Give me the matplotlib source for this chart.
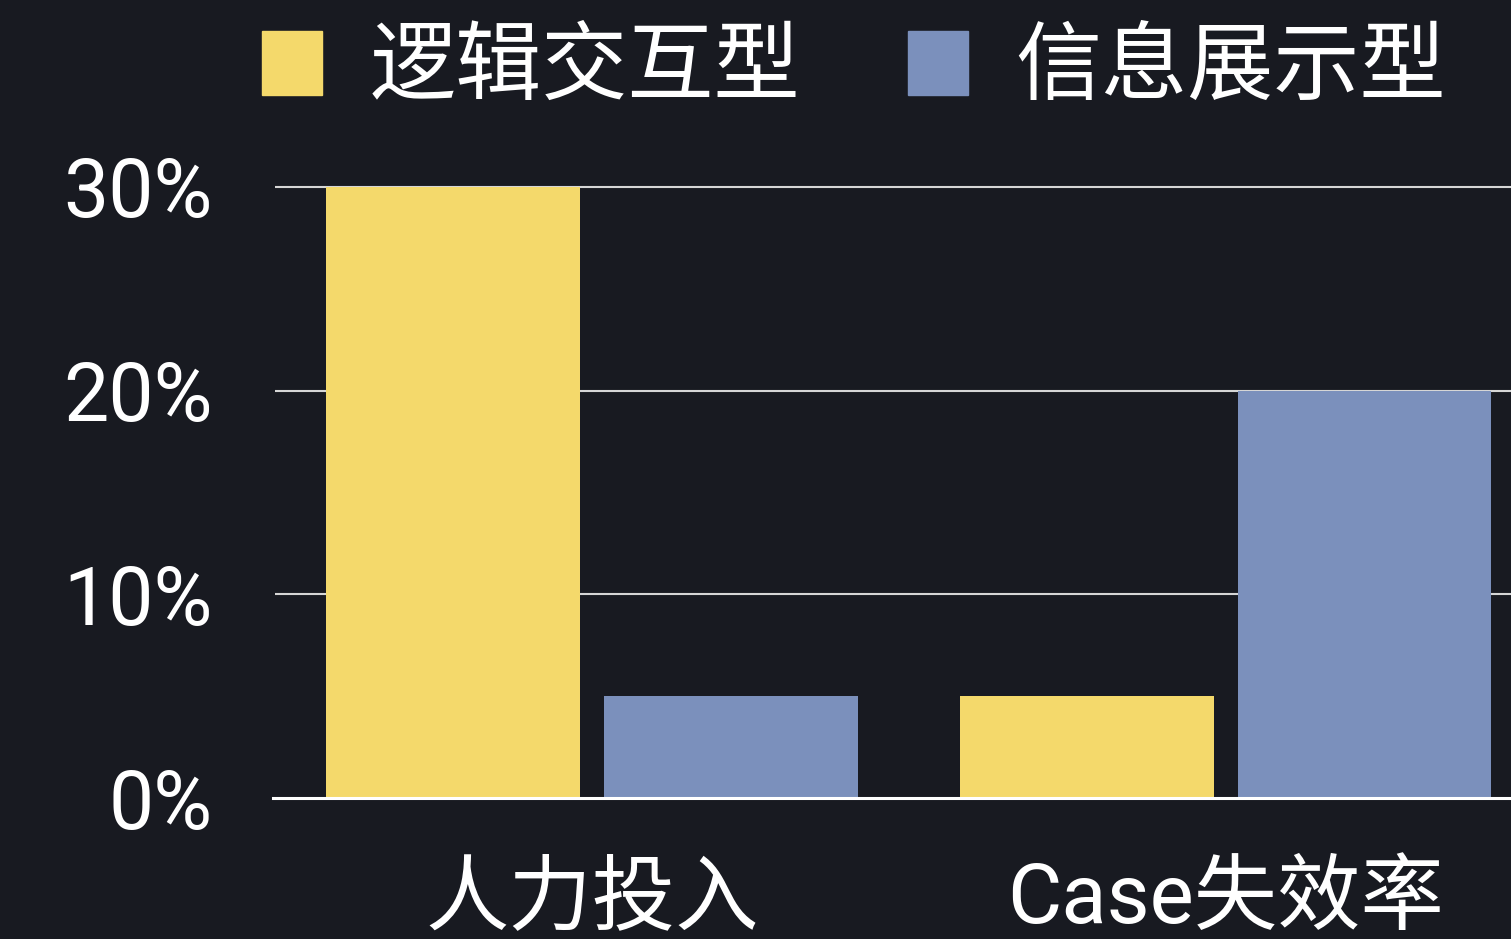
import matplotlib
matplotlib.use("Agg")
from matplotlib import pyplot as plt
from matplotlib.patches import Patch
import numpy as np

# data
categories = ["人力投入", "Case失效率"]
series_names = ["逻辑交互型", "信息展示型"]
logic_vals = [0.30, 0.05]
info_vals = [0.05, 0.20]
yticks = [0.0, 0.1, 0.2, 0.3]
ytick_labels = ["0%", "10%", "20%", "30%"]

bg = "#181a21"
yellow = "#f4d96b"
blue = "#7b90bc"
fonts = ["Roboto", "Noto Sans CJK SC", "DejaVu Sans"]
plt.rcParams["font.family"] = fonts

fig = plt.figure(figsize=(15.11, 9.39), dpi=100, facecolor=bg)
ax = fig.add_axes([275/1511, 141/939, 1 - 275/1511, (798-166.6)/939])
ax.set_facecolor(bg)

x = np.arange(len(categories))
w = 0.40
off = 0.219
ax.bar(x - off, logic_vals, w, color=yellow, zorder=3)
ax.bar(x + off, info_vals, w, color=blue, zorder=3)

ax.set_xlim(-0.5, 1.45)
ax.set_ylim(0, 0.31)

for v in yticks[1:]:
    ax.axhline(v, color="#d6d6d6", lw=1.5, zorder=1)
ax.axhline(0, xmin=-0.002, color="white", lw=2.2, zorder=4, clip_on=False)

ax.set_yticks(yticks)
ax.set_yticklabels(ytick_labels)
ax.set_xticks(x)
ax.set_xticklabels(categories)
ax.tick_params(axis="y", length=0, pad=45, labelsize=58, labelcolor="white")
ax.tick_params(axis="x", length=0, pad=45, labelsize=60, labelcolor="white")

for s in ax.spines.values():
    s.set_visible(False)

handles = [Patch(color=yellow), Patch(color=blue)]
fig.legend(handles, series_names, loc="center", bbox_to_anchor=(0.565, 0.926),
           ncol=2, frameon=False, labelcolor="white",
           handlelength=0.7, handleheight=0.77, handletextpad=0.55,
           columnspacing=1.25, borderpad=0, prop={"size": 62})

fig.savefig("out.png", dpi=100, facecolor=bg)
